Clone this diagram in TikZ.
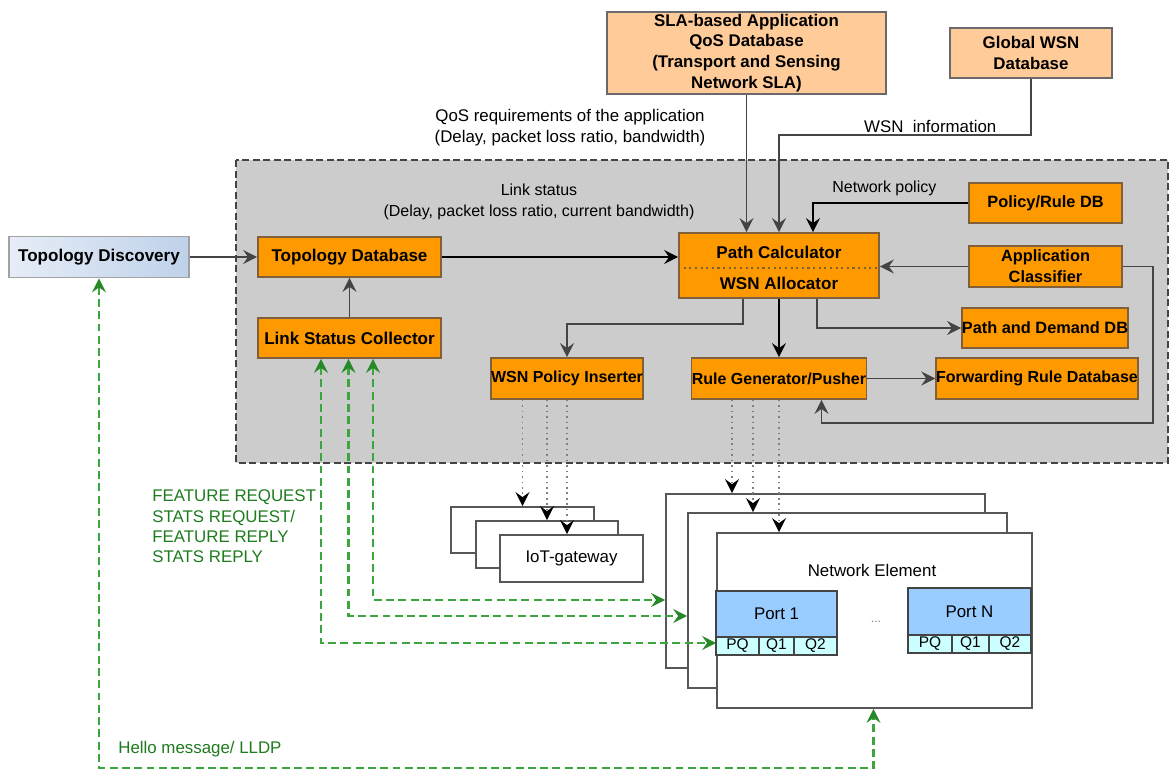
\documentclass[tikz,border=0pt]{standalone}
\usepackage{fontspec}
\setmainfont{Liberation Sans}
\usetikzlibrary{arrows.meta}

\definecolor{orangefill}{HTML}{FF9900}
\definecolor{orangerand}{HTML}{80603A}
\definecolor{pfirsich}{HTML}{FFCC99}
\definecolor{grau}{HTML}{CCCCCC}
\definecolor{portblau}{HTML}{99CCFF}
\definecolor{queuecyan}{HTML}{CCFFFF}
\definecolor{linie}{HTML}{444444}
\definecolor{gruenlinie}{HTML}{3DA53D}
\definecolor{gruentext}{HTML}{1E7B1E}
\definecolor{hellblau}{HTML}{E6EDF7}
\definecolor{mittelblau}{HTML}{BFD1EA}

\tikzset{
	orangebox/.style={draw=orangerand, fill=orangefill, line width=1pt, inner sep=0pt, align=center, font=\fontsize{9.3}{11.8}\selectfont\bfseries},
	pfirsichbox/.style={draw=linie!80, fill=pfirsich, line width=1pt, inner sep=0pt, align=center, font=\fontsize{9.6}{11.8}\selectfont\bfseries},
	weissbox/.style={draw=linie!90, fill=white, line width=1pt, inner sep=0pt, font=\fontsize{9.6}{11.8}\selectfont},
	portbox/.style={draw=linie, fill=portblau, line width=1pt, inner sep=0pt, font=\fontsize{9.6}{11.8}\selectfont},
	queuebox/.style={draw=linie, fill=queuecyan, line width=1pt, inner sep=0pt, minimum height=0.36cm, font=\fontsize{8.8}{9}\selectfont},
	normaltext/.style={align=center, font=\fontsize{9.6}{11.8}\selectfont},
	gruenschrift/.style={text=gruentext, inner sep=0pt, align=left, font=\fontsize{9.6}{11.6}\selectfont},
	spitze/.style={-{Stealth[length=2.8mm, width=2.8mm, inset=1mm]}},
	pfeil/.style={draw=linie, line width=1.1pt, spitze},
	pfeilschwarz/.style={draw=black, line width=1.1pt, spitze},
	punktpfeil/.style={draw=gray, line width=1.1pt, dash pattern=on 0.9pt off 2.2pt, -{Stealth[length=2.8mm, width=2.8mm, inset=1mm, black]}},
	gruenpfeil/.style={draw=gruenlinie, line width=1.2pt, dash pattern=on 4.5pt off 2.5pt,
		{Stealth[length=2.8mm, width=2.8mm, inset=1mm, gruentext!70!gruenlinie]}-{Stealth[length=2.8mm, width=2.8mm, inset=1mm, gruentext!70!gruenlinie]}}
}

\begin{document}
\begin{tikzpicture}
	% Rahmen der Zeichnung
	\useasboundingbox (0,0) rectangle (23.4,15.46);
	
	% Graue Steuerungsebene (gestrichelt umrandet)
	\draw[draw=linie, fill=grau, line width=1pt, dash pattern=on 4pt off 2pt] (4.72,12.26) rectangle (23.36,6.20);
	
	% Topology Discovery links aussen
	\node[draw=linie!50, left color=hellblau, right color=mittelblau, line width=1pt, inner sep=0pt,
		minimum width=3.6cm, minimum height=0.82cm, font=\fontsize{9.7}{11.8}\selectfont\bfseries] (topodisc) at (1.98,10.32) {Topology Discovery};
	
	% Datenbanken oben
	\node[pfirsichbox, minimum width=5.58cm, minimum height=1.64cm] (sla) at (14.93,14.40) {SLA-based Application\\QoS Database\\(Transport and Sensing\\Network SLA)};
	\node[pfirsichbox, minimum width=3.24cm, minimum height=1.0cm] (gwsn) at (20.62,14.40) {Global WSN\\Database};
	
	% Bausteine in der Steuerungsebene
	\node[orangebox, minimum width=3.66cm, minimum height=0.8cm, font=\fontsize{9.7}{11.8}\selectfont\bfseries] (topodb) at (6.99,10.32) {Topology Database};
	\node[orangebox, minimum width=3.66cm, minimum height=0.8cm, font=\fontsize{9.7}{11.8}\selectfont\bfseries] (lsc) at (6.99,8.70) {Link Status Collector};
	\node[orangebox, minimum width=4cm, minimum height=1.3cm] (pc) at (15.58,10.15) {};
	\node[font=\fontsize{9.7}{11.8}\selectfont\bfseries] (pctext) at (15.58,10.42) {Path Calculator};
	\node[font=\fontsize{9.7}{11.8}\selectfont\bfseries] (wsnalloc) at (15.58,9.80) {WSN Allocator};
	\draw[orangerand, dotted, line width=1.2pt] (pc.west |- 0,10.10) -- (pc.east |- 0,10.10);
	\node[orangebox, minimum width=3.06cm, minimum height=0.8cm] (policydb) at (20.91,11.40) {Policy/Rule DB};
	\node[orangebox, minimum width=3.06cm, minimum height=0.82cm] (appcls) at (20.91,10.13) {Application\\Classifier};
	\node[orangebox, minimum width=3.24cm, minimum height=0.8cm] (pddb) at (20.90,8.90) {Path and Demand DB};
	\node[orangebox, minimum width=4cm, minimum height=0.82cm, font=\fontsize{9.1}{11.8}\selectfont\bfseries] (fwddb) at (20.74,7.89) {Forwarding Rule Database};
	\node[orangebox, minimum width=3.5cm, minimum height=0.82cm, font=\fontsize{9.1}{11.8}\selectfont\bfseries] (rulegen) at (15.58,7.89) {Rule Generator/Pusher};
	\node[orangebox, minimum width=3.04cm, minimum height=0.82cm, font=\fontsize{9.1}{11.8}\selectfont\bfseries] (wpi) at (11.34,7.89) {WSN Policy Inserter};
	
	% Beschriftungen der Eingaenge
	\node[normaltext] (qoslabel) at (11.40,12.91) {QoS requirements of the application\\(Delay, packet loss ratio, bandwidth)};
	\node[normaltext, font=\fontsize{9.1}{11.6}\selectfont] (linklabel) at (10.78,11.42) {Link status\\(Delay, packet loss ratio, current bandwidth)};
	
	% IoT-Gateways (gestapelt)
	\node[weissbox, minimum width=2.86cm, minimum height=0.92cm] (iot1) at (10.45,4.86) {};
	\node[weissbox, minimum width=2.84cm, minimum height=0.94cm] (iot2) at (10.94,4.57) {};
	\node[weissbox, minimum width=2.86cm, minimum height=0.94cm] (iot3) at (11.43,4.29) {IoT-gateway};
	
	% Netzwerkelemente (gestapelt)
	\node[weissbox, minimum width=6.38cm, minimum height=3.48cm] (ne1) at (16.51,3.84) {};
	\node[weissbox, minimum width=6.38cm, minimum height=3.5cm] (ne2) at (16.95,3.45) {};
	\node[weissbox, minimum width=6.3cm, minimum height=3.5cm] (ne3) at (17.49,3.05) {};
	\node[normaltext] (netext) at (17.44,4.06) {Network Element};
	
	% Port 1 mit Warteschlangen
	\node[portbox, minimum width=2.42cm, minimum height=0.92cm] (port1) at (15.53,3.18) {Port 1};
	\node[queuebox, minimum width=0.86cm] (pq1) at (14.75,2.54) {PQ};
	\node[queuebox, minimum width=0.70cm] (qa1) at (15.53,2.54) {Q1};
	\node[queuebox, minimum width=0.86cm] (qb1) at (16.31,2.54) {Q2};
	
	% Port N mit Warteschlangen
	\node[portbox, minimum width=2.46cm, minimum height=0.94cm] (portn) at (19.39,3.23) {Port N};
	\node[queuebox, minimum width=0.88cm] (pqn) at (18.60,2.58) {PQ};
	\node[queuebox, minimum width=0.74cm] (qan) at (19.41,2.58) {Q1};
	\node[queuebox, minimum width=0.84cm] (qbn) at (20.20,2.58) {Q2};
	\node[text=gray, font=\fontsize{7}{8}\selectfont] (portdots) at (17.52,3.02) {...};
	
	% Pfeile in die Steuerungsebene
	\draw[pfeil] (topodisc.east) -- (topodb.west);
	\draw[pfeil] (lsc.north) -- (topodb.south);
	\draw[pfeilschwarz] (topodb.east) -- (topodb.east -| pc.west);
	\draw[pfeil] (sla.south) -- (sla.south |- pc.north);
	
	% WSN Information von der globalen Datenbank
	\coordinate (wsnknick) at (15.58,12.76);
	\draw[pfeil] (gwsn.south) |- node[pos=0.7, above, inner sep=1pt, font=\fontsize{9.6}{11.8}\selectfont] (wsninfo) {WSN~~information} (wsnknick) -- (pc.north);
	
	% Network policy
	\draw[pfeilschwarz] (policydb.west) -| node[pos=0.27, above, font=\fontsize{9.1}{11}\selectfont] (netpolicy) {Network policy} ([xshift=0.68cm]pc.north);
	
	% Application Classifier
	\draw[pfeil] (appcls.west) -- (appcls.west -| pc.east);
	\draw[pfeil] (appcls.east) -| (23.06,7.00) -| ([xshift=0.85cm]rulegen.south);
	
	% Ausgaenge des Path Calculator
	\draw[pfeil] ([xshift=0.76cm]pc.south) |- (pddb.west);
	\draw[pfeilschwarz] (pc.south) -- (rulegen.north);
	\draw[pfeil] ([xshift=-0.72cm]pc.south) -- ++(0,-0.5) -| (wpi.north);
	\draw[pfeil] (rulegen.east) -- (fwddb.west);
	
	% Gepunktete Pfeile zu den Gateways
	\draw[punktpfeil] (wpi.south -| iot1.north) -- (iot1.north);
	\draw[punktpfeil] (wpi.south -| iot2.north) -- (iot2.north);
	\draw[punktpfeil] (wpi.south) -- (wpi.south |- iot3.north);
	
	% Gepunktete Pfeile zu den Netzwerkelementen
	\draw[punktpfeil] ([xshift=-0.94cm]rulegen.south) -- ([xshift=-0.94cm]rulegen.south |- ne1.north);
	\draw[punktpfeil] ([xshift=-0.52cm]rulegen.south) -- ([xshift=-0.52cm]rulegen.south |- ne2.north);
	\draw[punktpfeil] (rulegen.south) -- (rulegen.south |- ne3.north);
	
	% OpenFlow Nachrichten (gruen gestrichelt)
	\draw[gruenpfeil] ([xshift=-0.57cm]lsc.south) |- ([yshift=-0.45cm]ne3.west);
	\draw[gruenpfeil] ([xshift=-0.02cm]lsc.south) |- ([yshift=-0.31cm]ne2.west);
	\draw[gruenpfeil] ([xshift=0.47cm]lsc.south) |- ([yshift=-0.38cm]ne1.west);
	\node[gruenschrift, anchor=west] (ofmsg) at (3.04,4.93) {FEATURE REQUEST\\STATS REQUEST/\\FEATURE REPLY\\STATS REPLY};
	
	% Hello / LLDP
	\draw[gruenpfeil] (topodisc.south) -- (topodisc.south |- 0,0.1) -| ([xshift=-0.02cm]ne3.south);
	\node[gruenschrift, anchor=west] (hellomsg) at (2.36,0.48) {Hello message/ LLDP};
	
\end{tikzpicture}
\end{document}
